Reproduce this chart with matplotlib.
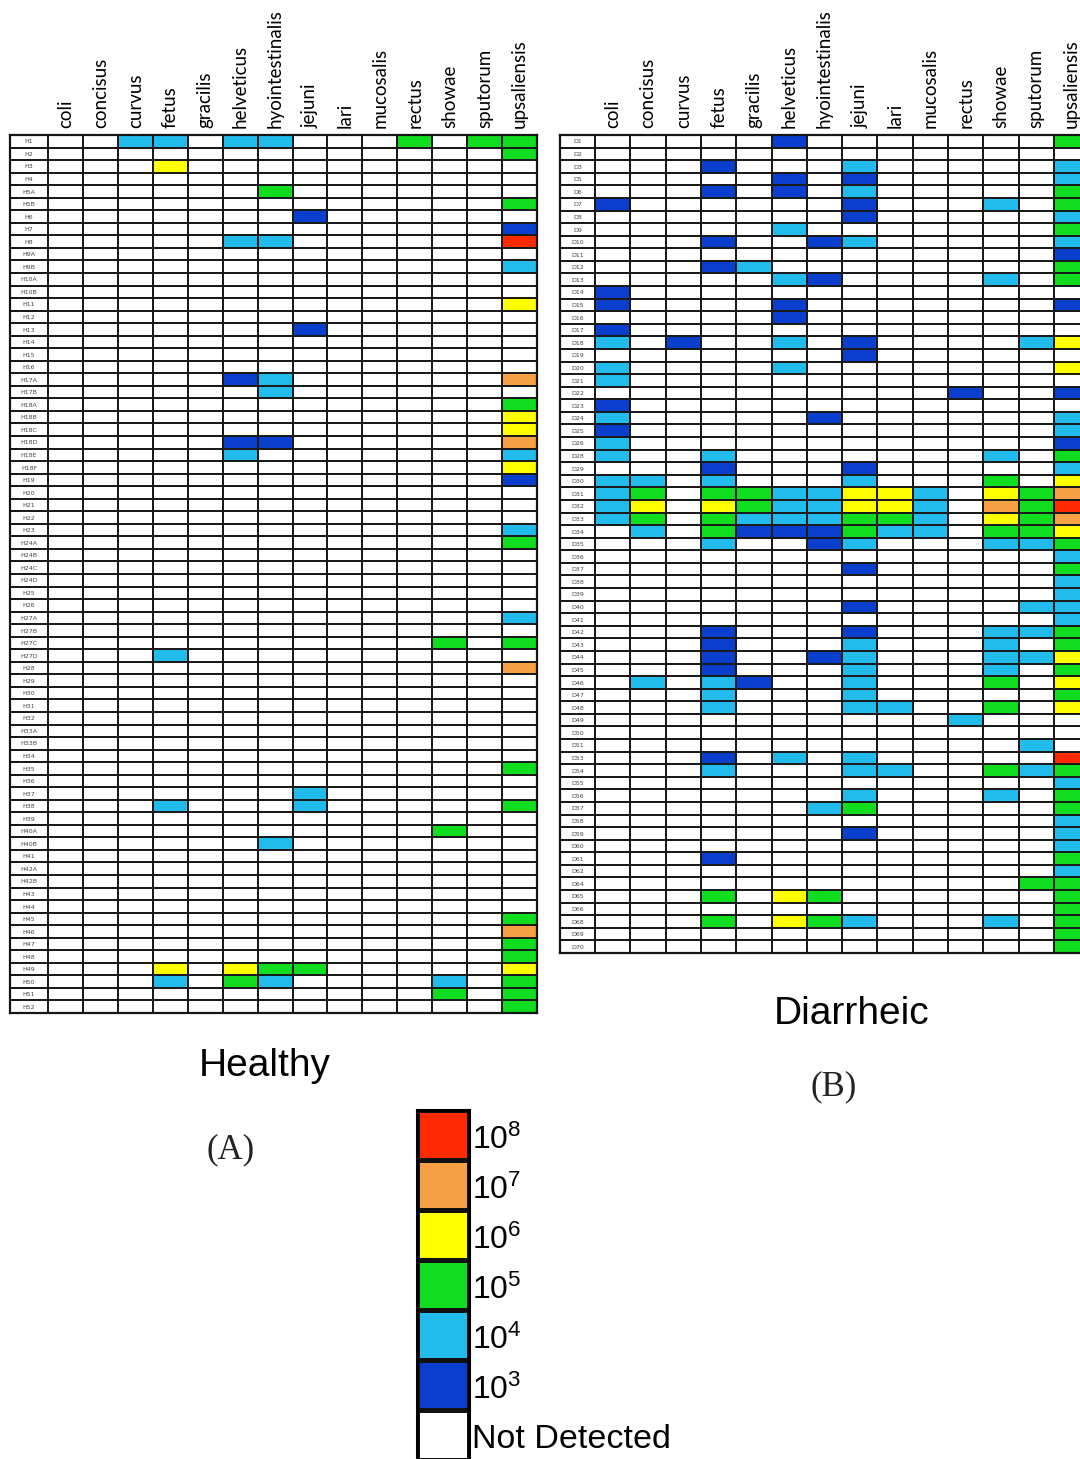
## Campylobacter species load heatmaps, healthy vs diarrheic samples

import numpy as np
import matplotlib
matplotlib.use('Agg')
import matplotlib.pyplot as plt
from matplotlib.colors import ListedColormap, BoundaryNorm

plt.rcParams['mathtext.fontset'] = 'custom'
plt.rcParams['mathtext.rm'] = 'Liberation Sans'

species = ['coli', 'concisus', 'curvus', 'fetus', 'gracilis', 'helveticus',
           'hyointestinalis', 'jejuni', 'lari', 'mucosalis', 'rectus',
           'showae', 'sputorum', 'upsaliensis']

# each string is one sample, one digit per species = log10 copies (0 = not detected)
healthy_ids = ['H1', 'H2', 'H3', 'H4', 'H5A', 'H5B', 'H6', 'H7', 'H8', 'H9A', 'H9B',
               'H10A', 'H10B', 'H11', 'H12', 'H13', 'H14', 'H15', 'H16', 'H17A', 'H17B',
               'H18A', 'H18B', 'H18C', 'H18D', 'H18E', 'H18F', 'H19', 'H20', 'H21', 'H22',
               'H23', 'H24A', 'H24B', 'H24C', 'H24D', 'H25', 'H26', 'H27A', 'H27B', 'H27C',
               'H27D', 'H28', 'H29', 'H30', 'H31', 'H32', 'H33A', 'H33B', 'H34', 'H35',
               'H36', 'H37', 'H38', 'H39', 'H40A', 'H40B', 'H41', 'H42A', 'H42B', 'H43',
               'H44', 'H45', 'H46', 'H47', 'H48', 'H49', 'H50', 'H51', 'H52']
healthy_levels = [
    '00440440005055', '00000000000005', '00060000000000', '00000000000000',
    '00000050000000', '00000000000005', '00000003000000', '00000000000003',
    '00000440000008', '00000000000000', '00000000000004', '00000000000000',
    '00000000000000', '00000000000006', '00000000000000', '00000003000000',
    '00000000000000', '00000000000000', '00000000000000', '00000340000007',
    '00000040000000', '00000000000005', '00000000000006', '00000000000006',
    '00000330000007', '00000400000004', '00000000000006', '00000000000003',
    '00000000000000', '00000000000000', '00000000000000', '00000000000004',
    '00000000000005', '00000000000000', '00000000000000', '00000000000000',
    '00000000000000', '00000000000000', '00000000000004', '00000000000000',
    '00000000000505', '00040000000000', '00000000000007', '00000000000000',
    '00000000000000', '00000000000000', '00000000000000', '00000000000000',
    '00000000000000', '00000000000000', '00000000000005', '00000000000000',
    '00000004000000', '00040004000005', '00000000000000', '00000000000500',
    '00000040000000', '00000000000000', '00000000000000', '00000000000000',
    '00000000000000', '00000000000000', '00000000000005', '00000000000007',
    '00000000000005', '00000000000005', '00060655000006', '00040540000405',
    '00000000000505', '00000000000005']

diarrheic_ids = ['D1', 'D2', 'D3', 'D5', 'D6', 'D7', 'D8', 'D9', 'D10', 'D11', 'D12',
                 'D13', 'D14', 'D15', 'D16', 'D17', 'D18', 'D19', 'D20', 'D21', 'D22',
                 'D23', 'D24', 'D25', 'D26', 'D28', 'D29', 'D30', 'D31', 'D32', 'D33',
                 'D34', 'D35', 'D36', 'D37', 'D38', 'D39', 'D40', 'D41', 'D42', 'D43',
                 'D44', 'D45', 'D46', 'D47', 'D48', 'D49', 'D50', 'D51', 'D53', 'D54',
                 'D55', 'D56', 'D57', 'D58', 'D59', 'D60', 'D61', 'D62', 'D64', 'D65',
                 'D66', 'D68', 'D69', 'D70']
diarrheic_levels = [
    '00000300000005', '00000000000000', '00030004000004', '00000303000004',
    '00030304000005', '30000003000405', '00000003000004', '00000400000005',
    '00030034000004', '00000000000003', '00034000000005', '00000430000405',
    '30000000000000', '30000300000003', '00000300000000', '30000000000000',
    '40300403000046', '00000003000000', '40000400000006', '40000000000000',
    '00000000003003', '30000000000000', '40000030000004', '30000000000004',
    '40000000000003', '40040000000405', '00030003000004', '44040004000506',
    '45055446640657', '46065446640758', '45054445540657', '04053335440556',
    '00040034000445', '00000000000004', '00000003000005', '00000000000004',
    '00000000000004', '00000003000044', '00000000000004', '00030003000445',
    '00030004000405', '00030034000446', '00030004000405', '04043004000506',
    '00040004000005', '00040004400506', '00000000004000', '00000000000000',
    '00000000000040', '00030404000008', '00040004400545', '00000000000004',
    '00000004000405', '00000045000005', '00000000000004', '00000003000004',
    '00000000000004', '00030000000005', '00000000000004', '00000000000055',
    '00050650000005', '00000000000005', '00050654000405', '00000000000005',
    '00000000000005']

legend_levels = [8, 7, 6, 5, 4, 3, 0]
legend_labels = [r'$\mathregular{10^8}$', r'$\mathregular{10^7}$', r'$\mathregular{10^6}$',
                 r'$\mathregular{10^5}$', r'$\mathregular{10^4}$', r'$\mathregular{10^3}$',
                 'Not Detected']

# white, 10^3 ... 10^8
cmap = ListedColormap(['#ffffff', '#0a3ecc', '#22bcec', '#10dc20', '#ffff00', '#f7a045', '#ff2a00'])
norm = BoundaryNorm([-0.5, 2, 3.5, 4.5, 5.5, 6.5, 7.5, 8.5], cmap.N)

W, H = 1080, 1459
fig = plt.figure(figsize=(W / 100, H / 100), dpi=100)


def px_axes(x0, y0, x1, y1):
    return fig.add_axes([x0 / W, 1 - y1 / H, (x1 - x0) / W, (y1 - y0) / H])


def draw_panel(ax, ids, levels, label_w):
    grid = np.array([[int(c) for c in row] for row in levels])
    grid = np.column_stack([np.zeros(len(grid), dtype=int), grid])
    xe = np.concatenate([[-label_w], np.arange(len(species) + 1)])
    ye = np.arange(len(ids) + 1)
    ax.pcolormesh(xe, ye, grid, cmap=cmap, norm=norm, edgecolors='#1a1a1a', linewidth=1.25)
    ax.set_xlim(-label_w, len(species))
    ax.set_ylim(len(ids), 0)
    for i, name in enumerate(ids):
        ax.text(-label_w / 2, i + 0.55, name, ha='center', va='center', fontsize=4.5, color='#444444')
    ax.xaxis.set_ticks_position('top')
    ax.set_xticks(np.arange(len(species)) + 0.5)
    ax.set_xticklabels(species, rotation=90, fontsize=13.5, family='Lato')
    ax.tick_params(axis='x', length=0, pad=5)
    ax.set_yticks([])
    for s in ax.spines.values():
        s.set_color('#151515')
        s.set_linewidth(1.6)


ax1 = px_axes(10, 135, 537, 1013)
draw_panel(ax1, healthy_ids, healthy_levels, 38 / 34.9)

ax2 = px_axes(560, 135, 595 + 14 * 35.3, 953)
draw_panel(ax2, diarrheic_ids, diarrheic_levels, 35 / 35.3)

# legend strip
axl = px_axes(417, 1110, 469, 1460)
axl.pcolormesh(np.arange(2), np.arange(len(legend_levels) + 1),
               np.array(legend_levels).reshape(-1, 1), cmap=cmap, norm=norm,
               edgecolors='#111111', linewidth=2.2)
axl.set_ylim(len(legend_levels), 0)
axl.set_xlim(0, 1)
axl.set_xticks([])
axl.set_yticks([])
for s in axl.spines.values():
    s.set_linewidth(2.2)
for i, lab in enumerate(legend_labels):
    fs = 24.5 if lab == 'Not Detected' else 23
    axl.text(1.06, i + 0.6, lab, ha='left', va='center', fontsize=fs,
             family='Liberation Sans', clip_on=False)

fig.text(265 / W, 1 - 1076 / H, 'Healthy', ha='center', va='baseline', fontsize=28, family='Liberation Sans')
fig.text(852 / W, 1 - 1024 / H, 'Diarrheic', ha='center', va='baseline', fontsize=28, family='Liberation Sans')
fig.text(231 / W, 1 - 1150 / H, '(A)', ha='center', va='center', fontsize=25, family='Liberation Serif', color='#222222')
fig.text(834 / W, 1 - 1087 / H, '(B)', ha='center', va='center', fontsize=25, family='Liberation Serif', color='#222222')

fig.savefig('out.png', dpi=100, facecolor='white')
